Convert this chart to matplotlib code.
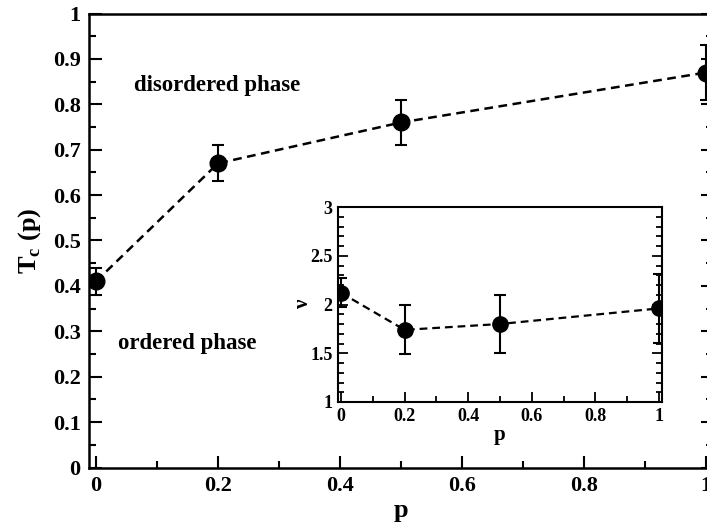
import matplotlib
matplotlib.use("Agg")
import matplotlib.pyplot as plt
from matplotlib.ticker import MultipleLocator, FuncFormatter

p = [0.0, 0.2, 0.5, 1.0]
tc = [0.41, 0.67, 0.76, 0.87]
tc_err = [0.03, 0.04, 0.05, 0.06]
nu = [2.12, 1.74, 1.80, 1.96]
nu_err = [0.15, 0.25, 0.30, 0.35]

plt.rcParams['font.family'] = ['Liberation Serif', 'DejaVu Serif']
plt.rcParams['font.weight'] = 'bold'
plt.rcParams['mathtext.fontset'] = 'custom'
plt.rcParams['mathtext.rm'] = 'Liberation Serif:bold'
plt.rcParams['mathtext.bf'] = 'Liberation Serif:bold'

W, H = 707, 526
fig = plt.figure(figsize=(W/100, H/100), dpi=100)


def fmt(v, pos):
    s = ('%.1f' % v)
    if s.endswith('.0'):
        s = s[:-2]
    return s


ax = fig.add_axes([89/W, (H-467.5)/H, (713-89)/W, 454/H])
ax.errorbar(p, tc, yerr=tc_err, fmt='o', color='black', ms=12, lw=1.5,
            capsize=4.5, capthick=1.5, zorder=3)
ax.plot(p, tc, ls=(0, (3.5, 2.2)), color='black', lw=1.8, zorder=2)
ax.set_xlim(-0.0115, 1.0115)
ax.set_ylim(0, 1)
ax.xaxis.set_major_locator(MultipleLocator(0.2))
ax.xaxis.set_minor_locator(MultipleLocator(0.1))
ax.yaxis.set_major_locator(MultipleLocator(0.1))
ax.yaxis.set_minor_locator(MultipleLocator(0.05))
ax.xaxis.set_major_formatter(FuncFormatter(fmt))
ax.yaxis.set_major_formatter(FuncFormatter(fmt))
ax.tick_params(which='both', direction='in', right=True, top=False,
               width=1.5, labelsize=16, pad=6)
ax.tick_params(which='major', length=9)
ax.tick_params(which='minor', length=5)
for s in ax.spines.values():
    s.set_linewidth(1.8)
for lab in ax.get_xticklabels() + ax.get_yticklabels():
    lab.set_fontweight('bold')
ax.set_xlabel('p', fontsize=19, fontweight='bold', labelpad=2)
ax.set_ylabel(r'T$_\mathbf{c}$ (p)', fontsize=19, fontweight='bold', labelpad=7)
ax.text(0.062, 0.8425, 'disordered phase', fontsize=16.5, fontweight='bold',
        ha='left', va='center')
ax.text(0.036, 0.274, 'ordered phase', fontsize=16.5, fontweight='bold',
        ha='left', va='center')

ins = fig.add_axes([338/W, (H-402)/H, 324/W, 195/H])
ins.errorbar(p, nu, yerr=nu_err, fmt='o', color='black', ms=11, lw=1.5,
             capsize=4, capthick=1.5, zorder=3)
ins.plot(p, nu, ls=(0, (3.5, 2.2)), color='black', lw=1.6, zorder=2)
ins.set_xlim(-0.0094, 1.0094)
ins.set_ylim(1, 3)
ins.xaxis.set_major_locator(MultipleLocator(0.2))
ins.xaxis.set_minor_locator(MultipleLocator(0.1))
ins.yaxis.set_major_locator(MultipleLocator(0.5))
ins.yaxis.set_minor_locator(MultipleLocator(0.1))
ins.xaxis.set_major_formatter(FuncFormatter(fmt))
ins.yaxis.set_major_formatter(FuncFormatter(fmt))
ins.tick_params(which='both', direction='in', right=True, top=False,
                width=1.3, labelsize=13, pad=4)
ins.tick_params(which='major', length=7)
ins.tick_params(which='minor', length=4)
for s in ins.spines.values():
    s.set_linewidth(1.5)
for lab in ins.get_xticklabels() + ins.get_yticklabels():
    lab.set_fontweight('bold')
ins.set_xlabel('p', fontsize=15, fontweight='bold', labelpad=0)
ins.set_ylabel('ν', fontsize=15, fontweight='bold', labelpad=-2)

fig.savefig('out.png', dpi=100)
